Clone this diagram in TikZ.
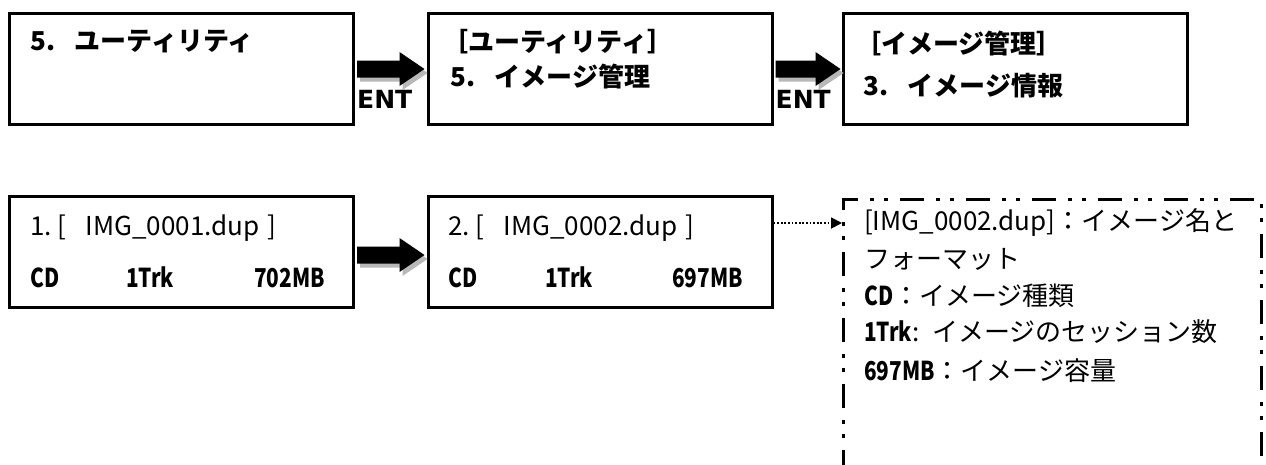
\documentclass[tikz,border=0pt]{standalone}
\usepackage{fontspec}
\setmainfont{Noto Sans CJK JP}
\newfontfamily\hwfont[FakeStretch=0.8]{Noto Sans CJK JP}
\newfontfamily\entfont{DejaVu Sans}
\usetikzlibrary{arrows.meta,calc}
\definecolor{shadowgray}{gray}{0.72}
\newcommand\blockarrow[2]{%
  \fill[shadowgray] let \p1=(#1), \p2=(#2) in
    ({\x1+3pt},{\y1+4.5pt}) -- ({\x2-22pt},{\y1+4.5pt}) -- ({\x2-22pt},{\y1+13pt})
    -- ({\x2+3pt},{\y1-4pt}) -- ({\x2-22pt},{\y1-21pt}) -- ({\x2-22pt},{\y1-12.5pt})
    -- ({\x1+3pt},{\y1-12.5pt}) -- cycle;
  \fill[black] let \p1=(#1), \p2=(#2) in
    (\x1,{\y1+8.5pt}) -- ({\x2-25pt},{\y1+8.5pt}) -- ({\x2-25pt},{\y1+17pt})
    -- (\x2,\y1) -- ({\x2-25pt},{\y1-17pt}) -- ({\x2-25pt},{\y1-8.5pt})
    -- (\x1,{\y1-8.5pt}) -- cycle;
}
\newcommand\hb[1]{{\hwfont\bfseries #1}}
\begin{document}
\begin{tikzpicture}[x=1pt,y=-1pt,
  box/.style={draw, line width=3pt, minimum width=344pt, minimum height=111pt, inner sep=0pt},
  dashbox/.style={draw, line width=3pt, minimum width=418pt, minimum height=300pt, inner sep=0pt,
    dash pattern=on 24pt off 12pt on 4pt off 10pt on 4pt off 12pt},
  txt/.style={inner sep=0pt, anchor=base west, font=\fontsize{26pt}{30pt}\selectfont},
  ttl/.style={txt, font=\fontsize{26pt}{30pt}\selectfont\bfseries},
  num/.style={inner sep=0pt, font=\fontsize{26pt}{30pt}\selectfont\hwfont\bfseries},
  ent/.style={inner sep=0pt, anchor=base west, font=\fontsize{25pt}{28pt}\selectfont\entfont\bfseries},
  dotarr/.style={line width=1.8pt, dash pattern=on 1.8pt off 1.8pt,
    -{Triangle[length=11pt,width=11pt]}}]
\useasboundingbox (0,0) rectangle (1266,464);
\clip (0,0) rectangle (1266,464);
\fill[white] (0,0) rectangle (1266,464);

% top row
\node[box] (t1) at (181.5,69) {};
\node[box] (t2) at (600,69) {};
\node[box] (t3) at (1015,69) {};
\node[ttl] (t1a) at (30,50) {5.\hspace{0.75em}ユーティリティ};
\node[ttl] (t2a) at (442,51) {［ユーティリティ］};
\node[ttl] (t2b) at (450,86) {5.\hspace{0.75em}イメージ管理};
\node[ttl] (t3a) at (855,53) {［イメージ管理］};
\node[ttl] (t3b) at (863,95) {3.\hspace{0.75em}イメージ情報};

\blockarrow{[xshift=2pt]t1.east}{[xshift=-2pt]t2.west}
\blockarrow{[xshift=2pt]t2.east}{[xshift=-1pt]t3.west}
\node[ent] (e1) at ([shift={(2pt,-39pt)}]t1.east) {ENT};
\node[ent] (e2) at ([shift={(2pt,-39pt)}]t2.east) {ENT};

% bottom row
\node[box] (b1) at (181.5,252) {};
\node[box] (b2) at (600,252) {};
\node[txt] (b1a) at (30,235) {1.\hspace{6pt}[\hspace{19pt}IMG\_0001.dup\hspace{8pt}]};
\node[num, anchor=base west] (b1c) at (30,287) {CD};
\node[num, anchor=base west] (b1d) at (126,287) {1Trk};
\node[num, anchor=base east] (b1e) at (325,287) {702MB};
\node[txt] (b2a) at (448,235) {2.\hspace{6pt}[\hspace{19pt}IMG\_0002.dup\hspace{8pt}]};
\node[num, anchor=base west] (b2c) at (448,287) {CD};
\node[num, anchor=base west] (b2d) at (545,287) {1Trk};
\node[num, anchor=base east] (b2e) at (743,287) {697MB};
\blockarrow{[shift={(2pt,-3pt)}]b1.east}{[shift={(-2pt,-3pt)}]b2.west}

% info box
\node[dashbox, anchor=north west] (info) at (842,198) {};
\coordinate (dy) at (0,223);
\draw[dotarr] (b2.east |- dy) -- (info.west |- dy);
\node[txt] (i1) at (864,230) {[IMG\_0002.dup]：イメージ名と};
\node[txt] (i2) at (864,268) {フォーマット};
\node[txt] (i3) at (864,305) {\hb{CD}：イメージ種類};
\node[txt] (i4) at (864,341) {\hb{1Trk}:\hspace{0.5em}イメージのセッション数};
\node[txt] (i5) at (864,380) {\hb{697MB}：イメージ容量};
\end{tikzpicture}
\end{document}
